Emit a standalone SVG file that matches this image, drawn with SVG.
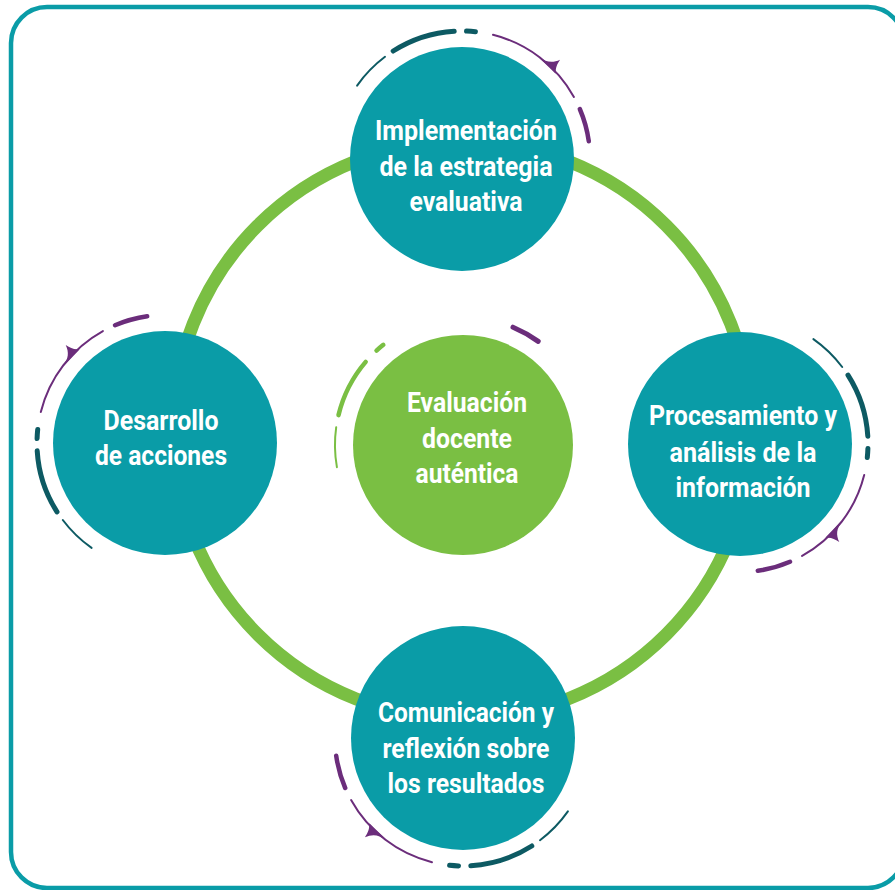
<svg xmlns="http://www.w3.org/2000/svg" xmlns:xlink="http://www.w3.org/1999/xlink" width="895" height="890" viewBox="0 0 895 890">
<style>
.frame{fill:none;stroke:#0A9CA7;stroke-width:4.5}
.ring{fill:none;stroke:#7ABF43;stroke-width:13}
.node{fill:#0A9CA7}
.core{fill:#7ABF43}
.lbl{font-family:Roboto,"Liberation Sans",sans-serif;font-weight:bold;font-size:28px;fill:#ffffff;text-anchor:middle}
.tk{fill:none;stroke:#0D5A63;stroke-linecap:round}
.pu{fill:none;stroke:#6B2D7B;stroke-linecap:round}
.gr{fill:none;stroke:#7ABF43;stroke-linecap:round}
</style>
<defs>
<g id="deco">
<path class="tk" stroke-width="2" d="M -104.9 -73.4 A 128 128 0 0 1 -77.0 -102.2"/>
<path class="tk" stroke-width="5" d="M -68.8 -108.0 A 128 128 0 0 1 -7.8 -127.8"/>
<path class="tk" stroke-width="5" d="M 4.5 -127.9 A 128 128 0 0 1 13.4 -127.3"/>
<path class="pu" stroke-width="2" d="M 31.0 -124.2 A 128 128 0 0 1 111.9 -62.1"/>
<path fill="#6B2D7B" transform="rotate(43)" d="M -13 -127.4 C -4 -128 1 -132 4 -139.5 C 5 -134 6 -130.5 10 -127 L 10 -126.3 L -13 -126.6 Z"/>
<path class="pu" stroke-width="4.5" d="M 117.8 -50.0 A 128 128 0 0 1 126.8 -17.8"/>
</g>
</defs>
<rect class="frame" x="11" y="7" width="893" height="881" rx="36" ry="36"/>
<g id="connectors">
<circle class="ring" cx="462" cy="430" r="289"/>
</g>
<g id="node-center">
<circle class="core" cx="463" cy="445" r="110"/>
<path class="gr" stroke-width="4.5" d="M 376.5 350.6 A 128 128 0 0 1 383.3 344.8"/>
<path class="gr" stroke-width="4.5" d="M 365.7 361.9 A 128 128 0 0 0 338.5 415.1"/>
<path class="gr" stroke-width="2" d="M 336.9 467.2 A 128 128 0 0 1 336.2 427.2"/>
<path class="pu" stroke-width="5" d="M 513 327.2 A 128 128 0 0 1 538.2 341.4"/>
<text class="lbl" x="467" y="412" textLength="120" lengthAdjust="spacingAndGlyphs">Evaluación</text>
<text class="lbl" x="467" y="448" textLength="90" lengthAdjust="spacingAndGlyphs">docente</text>
<text class="lbl" x="467" y="483" textLength="103" lengthAdjust="spacingAndGlyphs">auténtica</text>
</g>
<g id="node-top">
<use xlink:href="#deco" transform="translate(462,159)"/>
<circle class="node" cx="462" cy="159" r="112"/>
<text class="lbl" x="466" y="140" textLength="182" lengthAdjust="spacingAndGlyphs">Implementación</text>
<text class="lbl" x="466" y="175.5" textLength="173" lengthAdjust="spacingAndGlyphs">de la estrategia</text>
<text class="lbl" x="466" y="211" textLength="113" lengthAdjust="spacingAndGlyphs">evaluativa</text>
</g>
<g id="node-right">
<use xlink:href="#deco" transform="translate(740,444) rotate(90)"/>
<circle class="node" cx="740" cy="444" r="112"/>
<text class="lbl" x="743" y="425" textLength="188" lengthAdjust="spacingAndGlyphs">Procesamiento y</text>
<text class="lbl" x="743" y="461.5" textLength="147" lengthAdjust="spacingAndGlyphs">análisis de la</text>
<text class="lbl" x="743" y="497" textLength="135" lengthAdjust="spacingAndGlyphs">información</text>
</g>
<g id="node-bottom">
<use xlink:href="#deco" transform="translate(463,738) rotate(180)"/>
<circle class="node" cx="463" cy="738" r="112"/>
<text class="lbl" x="466" y="722" textLength="176" lengthAdjust="spacingAndGlyphs">Comunicación y</text>
<text class="lbl" x="466" y="758" textLength="167" lengthAdjust="spacingAndGlyphs">reflexión sobre</text>
<text class="lbl" x="466" y="793" textLength="157" lengthAdjust="spacingAndGlyphs">los resultados</text>
</g>
<g id="node-left">
<use xlink:href="#deco" transform="translate(165,443) rotate(-90)"/>
<circle class="node" cx="165" cy="443" r="112"/>
<text class="lbl" x="161" y="430" textLength="115" lengthAdjust="spacingAndGlyphs">Desarrollo</text>
<text class="lbl" x="161" y="465" textLength="132" lengthAdjust="spacingAndGlyphs">de acciones</text>
</g>
</svg>
